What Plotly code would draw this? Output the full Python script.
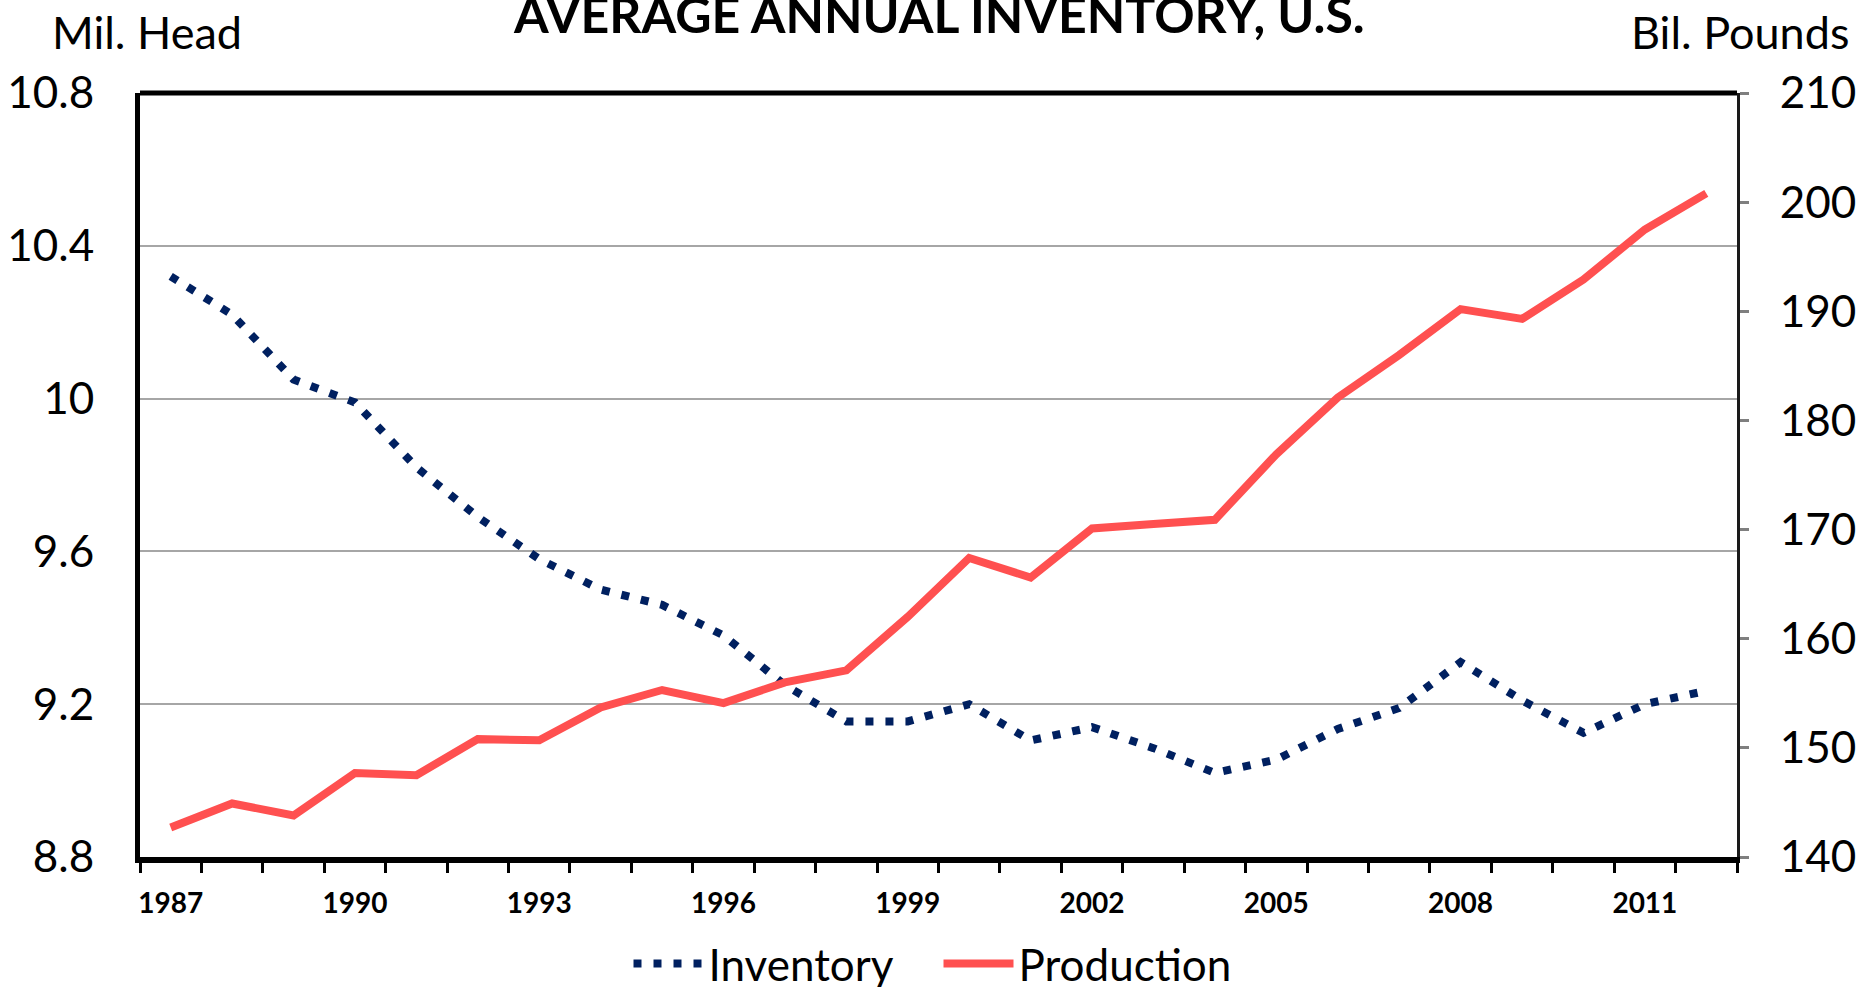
import plotly.graph_objects as go

# ── Data ───────────────────────────────────────────────────────
YEARS = list(range(1987, 2013))
INVENTORY_MIL_HEAD = [
    10.32, 10.22, 10.05, 9.99, 9.82, 9.69, 9.58, 9.50, 9.46, 9.38,
    9.25, 9.155, 9.155, 9.20, 9.105, 9.14, 9.085, 9.02, 9.055, 9.135,
    9.19, 9.31, 9.21, 9.125, 9.20, 9.235,
]
PRODUCTION_BIL_LBS = [
    142.7, 144.9, 143.8, 147.7, 147.5, 150.8, 150.7, 153.7, 155.3, 154.1,
    156.0, 157.1, 162.0, 167.4, 165.6, 170.1, 170.5, 170.9, 176.9, 182.1,
    186.0, 190.2, 189.3, 192.9, 197.5, 200.8,
]
LEFT_TICKS = [8.8, 9.2, 9.6, 10.0, 10.4, 10.8]
LEFT_TICKTEXT = ["8.8", "9.2", "9.6", "10", "10.4", "10.8"]
RIGHT_TICKS = [140, 150, 160, 170, 180, 190, 200, 210]
X_LABEL_YEARS = YEARS[::3]

FONT = "Lato"
NAVY = "#002060"
CORAL = "#FF5050"

fig = go.Figure()

fig.add_trace(
    go.Scatter(
        x=YEARS,
        y=INVENTORY_MIL_HEAD,
        name="Inventory",
        mode="lines",
        line=dict(color=NAVY, width=8, dash="8px,12px"),
        yaxis="y",
    )
)
fig.add_trace(
    go.Scatter(
        x=YEARS,
        y=PRODUCTION_BIL_LBS,
        name="Production",
        mode="lines",
        line=dict(color=CORAL, width=8),
        yaxis="y2",
    )
)

fig.update_layout(
    width=1863,
    height=987,
    margin=dict(l=140, r=126, t=93, b=130, autoexpand=False),
    paper_bgcolor="white",
    plot_bgcolor="white",
    font=dict(family=FONT, color="black"),
    showlegend=True,
    legend=dict(
        orientation="h",
        x=0.5,
        xanchor="center",
        y=-0.14,
        yanchor="middle",
        font=dict(family=FONT, size=44, color="black"),
        itemwidth=70,
        entrywidth=225,
        entrywidthmode="pixels",
        bgcolor="rgba(0,0,0,0)",
    ),
    xaxis=dict(
        range=[YEARS[0] - 0.5, YEARS[-1] + 0.5],
        tickmode="array",
        tickvals=X_LABEL_YEARS,
        ticktext=[str(y) for y in X_LABEL_YEARS],
        ticks="",
        tickfont=dict(family=FONT, size=28, color="black", weight="bold"),
        ticklabelstandoff=16,
        minor=dict(
            tickmode="linear",
            tick0=YEARS[0] - 0.5,
            dtick=1,
            ticks="outside",
            ticklen=10,
            tickwidth=3,
            tickcolor="black",
            showgrid=False,
        ),
        showline=True,
        linecolor="black",
        linewidth=6,
        showgrid=False,
        zeroline=False,
        automargin=False,
        fixedrange=True,
    ),
    yaxis=dict(
        range=[8.8, 10.8],
        tickmode="array",
        tickvals=LEFT_TICKS,
        ticktext=LEFT_TICKTEXT,
        ticks="",
        ticklabelstandoff=32,
        tickfont=dict(family=FONT, size=44, color="black"),
        showgrid=True,
        gridcolor="#A6A6A6",
        gridwidth=1.5,
        showline=True,
        linecolor="black",
        linewidth=5,
        zeroline=False,
        automargin=False,
        fixedrange=True,
    ),
    yaxis2=dict(
        range=[140, 210],
        tickmode="array",
        tickvals=RIGHT_TICKS,
        overlaying="y",
        side="right",
        ticks="outside",
        ticklen=9,
        tickwidth=3,
        tickcolor="#7F7F7F",
        ticklabelstandoff=22,
        tickfont=dict(family=FONT, size=44, color="black"),
        showgrid=False,
        showline=True,
        linecolor="#1a1a1a",
        linewidth=3,
        zeroline=False,
        automargin=False,
        fixedrange=True,
    ),
)

# thick top border of the plot area
fig.add_shape(
    type="line", xref="paper", yref="paper",
    x0=0, x1=1, y0=1, y1=1,
    line=dict(color="black", width=5),
)

fig.add_annotation(
    text="AVERAGE ANNUAL INVENTORY, U.S.",
    xref="paper", yref="paper", x=0.5, y=1.103,
    xanchor="center", yanchor="middle", showarrow=False,
    font=dict(family=FONT, size=50, color="black", weight="bold"),
)
fig.add_annotation(
    text="Mil. Head",
    xref="paper", yref="paper", x=-0.0564, y=1.08,
    xanchor="left", yanchor="middle", showarrow=False,
    font=dict(family=FONT, size=45, color="black"),
)
fig.add_annotation(
    text="Bil. Pounds",
    xref="paper", yref="paper", x=1.0714, y=1.08,
    xanchor="right", yanchor="middle", showarrow=False,
    font=dict(family=FONT, size=45, color="black"),
)

fig.write_html(
    "out.html",
    config={"displayModeBar": False},
    post_script="document.body.style.margin='0';",
)
